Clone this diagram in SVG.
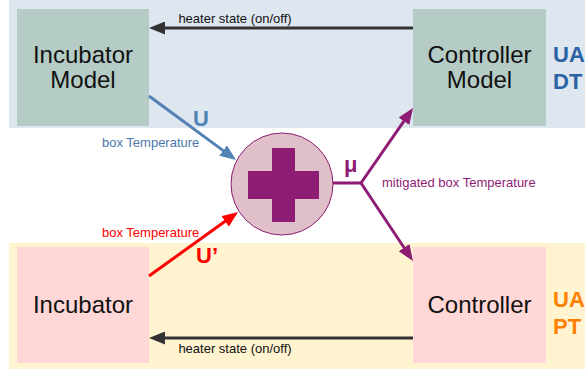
<svg xmlns="http://www.w3.org/2000/svg" width="585" height="374" viewBox="0 0 585 374">
<defs>
<style>
text{font-family:"Liberation Sans",Arial,sans-serif}
.node{font-size:24px;fill:#111;text-anchor:middle}
.lbl{font-size:13px}
.big{font-size:22px;font-weight:bold}
.ln{fill:none;stroke-width:3}
</style>
<marker id="ad" markerUnits="userSpaceOnUse" markerWidth="16" markerHeight="13" refX="4" refY="6.5" orient="auto"><path d="M0,0L16,6.5L0,13z" fill="#333"/></marker>
<marker id="ab" markerUnits="userSpaceOnUse" markerWidth="16" markerHeight="13" refX="4" refY="6.5" orient="auto"><path d="M0,0L16,6.5L0,13z" fill="#5283b5"/></marker>
<marker id="ar" markerUnits="userSpaceOnUse" markerWidth="16" markerHeight="13" refX="4" refY="6.5" orient="auto"><path d="M0,0L16,6.5L0,13z" fill="#ff0000"/></marker>
<marker id="ap" markerUnits="userSpaceOnUse" markerWidth="16" markerHeight="13" refX="4" refY="6.5" orient="auto"><path d="M0,0L16,6.5L0,13z" fill="#8e1c74"/></marker>
</defs>
<rect width="585" height="374" fill="#fff"/>
<g id="bands">
<rect x="9" y="0" width="576" height="128" fill="#dee6ef"/>
<rect x="9" y="243" width="576" height="126" fill="#fff4cf"/>
<text x="553" y="62" class="big" fill="#2a62a3" font-size="21">UA</text>
<text x="553" y="89" class="big" fill="#2a62a3" font-size="21">DT</text>
<text x="553" y="307" class="big" fill="#ff8000" font-size="21">UA</text>
<text x="553" y="334" class="big" fill="#ff8000" font-size="21">PT</text>
</g>
<g id="incubator-model">
<rect x="17" y="9" width="132" height="117" fill="#b5ccc6"/>
<text x="83" y="63" class="node">Incubator</text>
<text x="83" y="88" class="node">Model</text>
</g>
<g id="controller-model">
<rect x="413" y="9" width="133" height="117" fill="#b5ccc6"/>
<text x="479.5" y="63" class="node">Controller</text>
<text x="479.5" y="88" class="node">Model</text>
</g>
<g id="incubator">
<rect x="17" y="247" width="132" height="116" fill="#ffd7d7"/>
<text x="83" y="313" class="node">Incubator</text>
</g>
<g id="controller">
<rect x="413" y="247" width="133" height="116" fill="#ffd7d7"/>
<text x="479.5" y="313" class="node">Controller</text>
</g>
<g id="sum">
<circle cx="282" cy="184" r="51" fill="#dfc0ca" stroke="#8e1c74" stroke-width="1"/>
<rect x="272" y="148" width="23" height="74" fill="#8e1c73"/>
<rect x="248" y="171" width="71" height="28" fill="#8e1c73"/>
</g>
<g id="connectors">
<line x1="413" y1="28" x2="161" y2="28" class="ln" stroke="#333" marker-end="url(#ad)"/>
<text x="235" y="23" class="lbl" fill="#111" text-anchor="middle">heater state (on/off)</text>
<line x1="413" y1="338" x2="161" y2="338" class="ln" stroke="#333" marker-end="url(#ad)"/>
<text x="235" y="353" class="lbl" fill="#111" text-anchor="middle">heater state (on/off)</text>
<line x1="149" y1="96" x2="226.3" y2="152.9" class="ln" stroke="#5283b5" marker-end="url(#ab)"/>
<text x="193" y="126" class="big" fill="#5283b5">U</text>
<text x="102" y="147" class="lbl" fill="#4a77ad">box Temperature</text>
<line x1="149" y1="276" x2="228.3" y2="219" class="ln" stroke="#ff0000" marker-end="url(#ar)"/>
<text x="196" y="263" class="big" fill="#ff0000">U’</text>
<text x="102" y="237" class="lbl" fill="#ff0000">box Temperature</text>
<polyline points="333,183 361,183" class="ln" stroke="#8e1c74"/>
<line x1="361" y1="183" x2="406.2" y2="117.9" class="ln" stroke="#8e1c74" marker-end="url(#ap)"/>
<line x1="361" y1="183" x2="406.3" y2="251" class="ln" stroke="#8e1c74" marker-end="url(#ap)"/>
<text x="344" y="172" class="big" fill="#8e1c74" font-size="20">μ</text>
<text x="382" y="187" class="lbl" fill="#8e1c74">mitigated box Temperature</text>
</g>
</svg>
